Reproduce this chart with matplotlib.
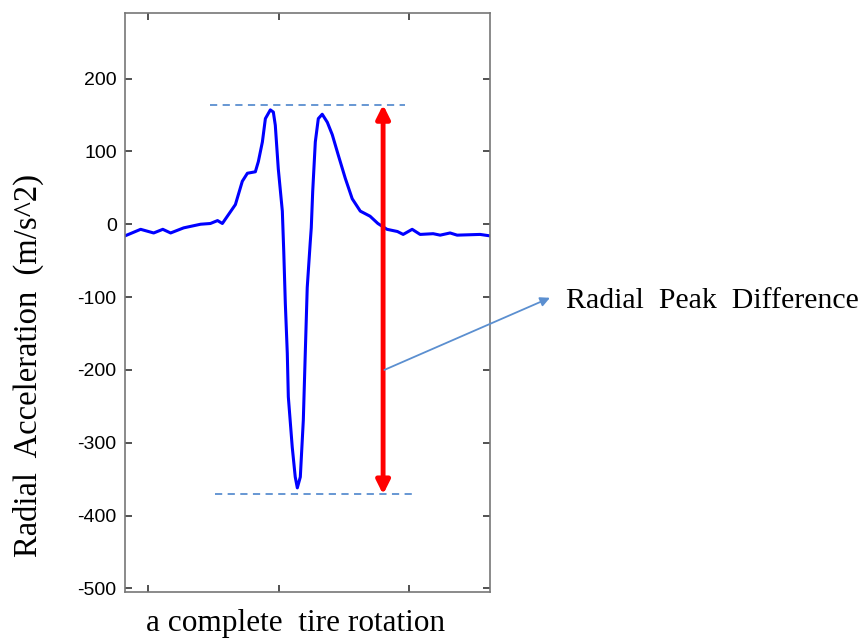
import numpy as np
import matplotlib.pyplot as plt

plt.rcParams["axes.unicode_minus"] = False

# one tire rotation trace
sample = [82, 94, 104, 111, 117, 127, 140, 147.5, 153, 156.7,
          159, 166.7, 172, 175.9, 182, 184.3, 187.4, 189.7, 193.5, 195.8,
          197.3, 199.6, 202.7, 203.8, 205, 206.5, 207.3, 210.3, 212.6, 214.2,
          216.5, 218.8, 220.3, 221.8, 224.1, 224.9, 226, 228, 230.3, 233.3,
          237.2, 241, 245.6, 251, 256.3, 262.5, 270, 276, 283, 291,
          295.4, 302.3, 308.4, 318.4, 323.8, 331.4, 336.8, 354.4, 362]
accel = [-16, -7, -12, -7, -12, -5, 0, 1, 5, 1,
         7, 27, 59, 70, 72, 86, 113, 145, 157, 154,
         136, 76, 18, -38, -109, -177, -237, -306, -347, -362,
         -347, -269, -177, -87, -25, -5, 45, 113, 145, 151,
         140, 123, 95, 63, 35, 18, 11, 1, -7, -10,
         -14, -7, -14, -13, -15, -12, -15, -14, -16]

peak_max = 164
peak_min = -371
arrow_x = 280
label = "Radial  Peak  Difference"

fig = plt.figure(figsize=(8.68, 6.41), dpi=100)
ax = fig.add_axes([0.144, 0.0764, 0.4205, 0.9033])

ax.plot(sample, accel, color="#0000ff", linewidth=2.2)

# peak guide lines
ax.hlines(peak_max, 147.5, 297, colors="#5b8fd0", linestyles=(0, (4, 3)), linewidth=1.3)
ax.hlines(peak_min, 151, 302, colors="#5b8fd0", linestyles=(0, (4, 3)), linewidth=1.3)

# red double arrow between peaks
ax.annotate("", xy=(arrow_x, peak_max), xytext=(arrow_x, peak_min),
            arrowprops=dict(arrowstyle="<|-|>", color="red", lw=3.5,
                            mutation_scale=20, shrinkA=0, shrinkB=0))

# pointer to the label
ax.annotate("", xy=(408, -101), xytext=(arrow_x + 1, -200),
            arrowprops=dict(arrowstyle="-|>", color="#5b8fd0", lw=1.3,
                            mutation_scale=14, shrinkA=0, shrinkB=0),
            annotation_clip=False)
ax.text(420, -105, label, fontsize=21.5, family="Liberation Serif",
        va="center", ha="left", clip_on=False)

ax.set_xlim(82, 362)
ax.set_ylim(-505, 290)
ax.set_xticks([100, 200, 300])
ax.set_xticklabels([])
ax.set_yticks([-500, -400, -300, -200, -100, 0, 100, 200])
ax.tick_params(direction="in", top=True, right=True, length=5, width=1.2,
               color="#333333", labelsize=14, pad=6)
for lab in ax.get_yticklabels():
    lab.set_family("Liberation Sans")
for s in ax.spines.values():
    s.set_color("#777777")
    s.set_linewidth(1.2)

ax.set_ylabel("Radial  Acceleration  (m/s^2)", fontsize=23.5, family="Liberation Serif")
ax.yaxis.set_label_coords(-0.222, 0.392)
ax.set_xlabel("a complete  tire rotation", fontsize=22.5, family="Liberation Serif")
ax.xaxis.set_label_coords(0.468, -0.03)

fig.savefig("out.png", dpi=100)
